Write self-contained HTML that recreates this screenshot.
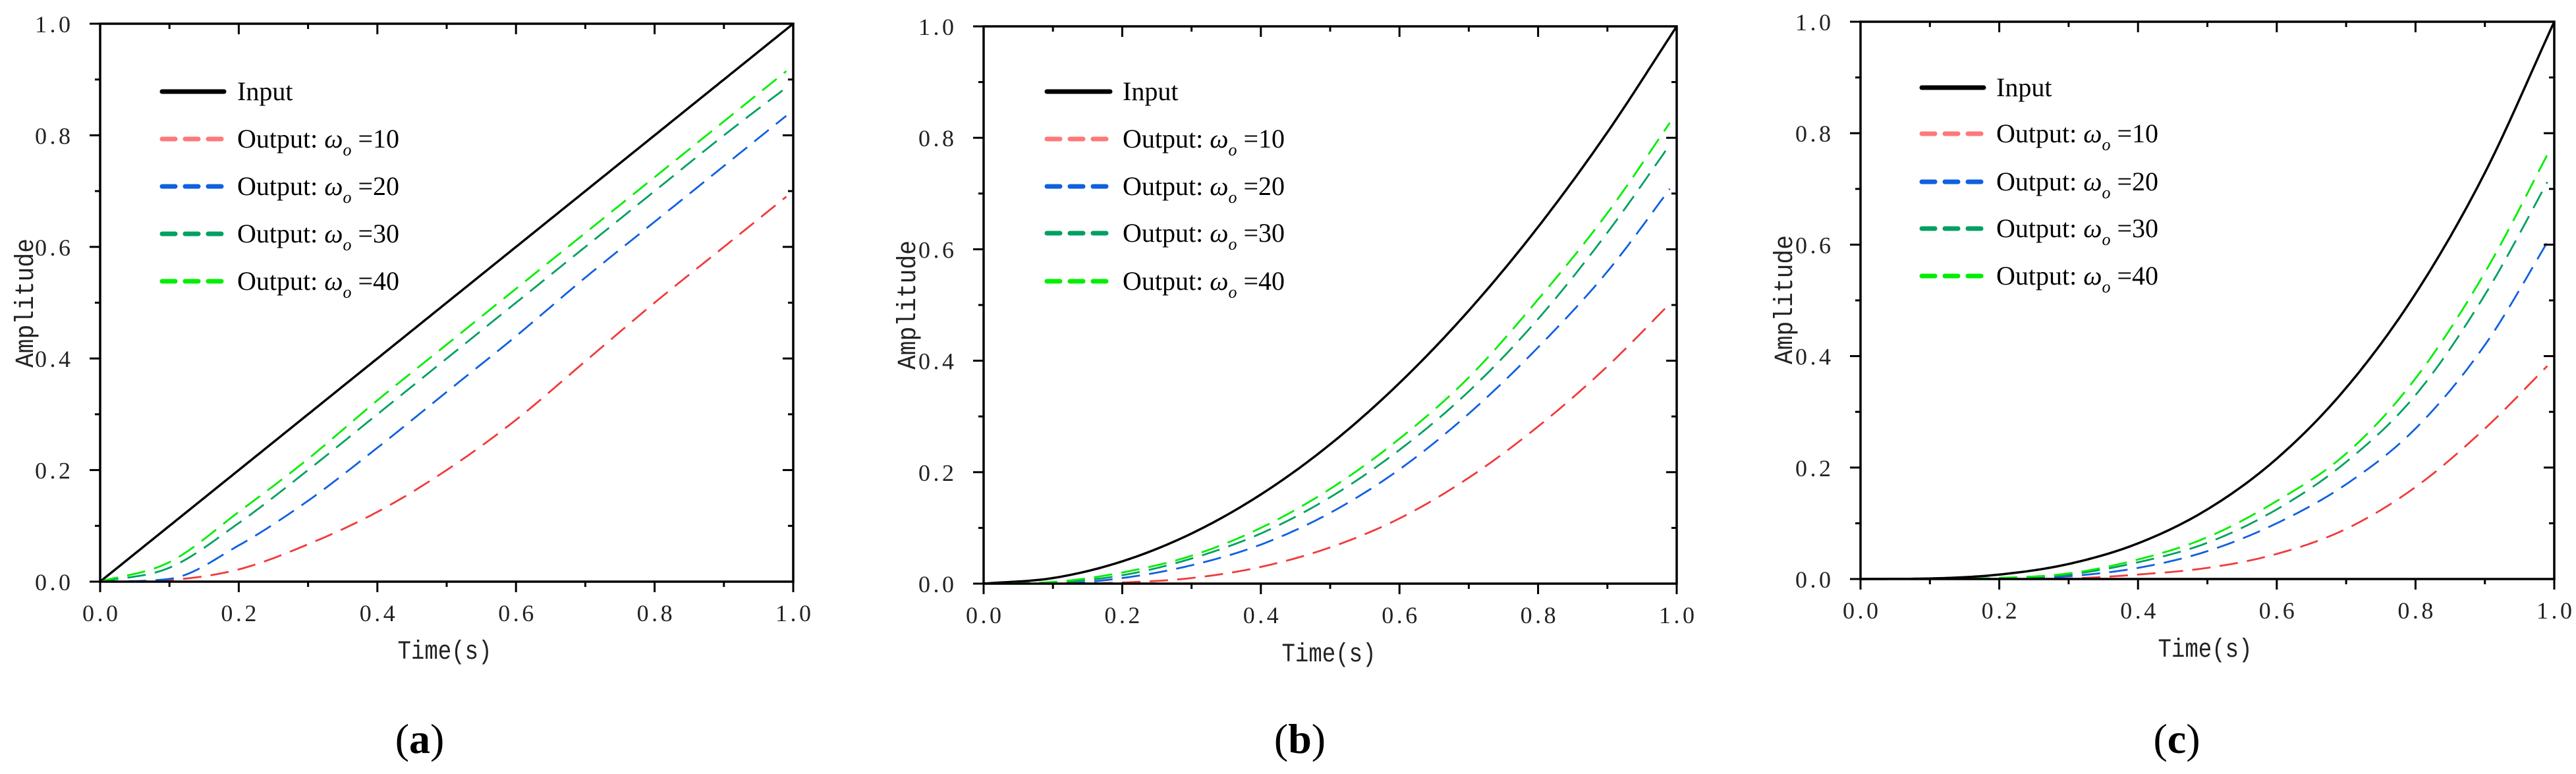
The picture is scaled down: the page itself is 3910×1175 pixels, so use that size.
<!DOCTYPE html>
<html><head><meta charset="utf-8"><style>
html,body{margin:0;padding:0;background:#fff;}
svg{display:block;}
</style></head><body>
<svg id="fig" xmlns="http://www.w3.org/2000/svg" width="3910" height="1175" viewBox="0 0 3910 1175"></svg>
<script>
// shared sample times
const times = [0,0.1,0.2,0.3,0.4,0.5,0.6,0.7,0.8,0.9,1.0];
const tickLabels = ["0.0","0.2","0.4","0.6","0.8","1.0"];
const seriesNames = ["Input","Output: ω=10","Output: ω=20","Output: ω=30","Output: ω=40"];
const omegaValues = ["10","20","30","40"];
// panel (a)
const aInput = [0,0.1,0.2,0.3,0.4,0.5,0.6,0.7,0.8,0.9,1.0];
const aW10 = [0,0.003,0.022,0.067,0.125,0.2,0.29,0.395,0.5,0.6,0.7];
const aW20 = [0,0.005,0.065,0.145,0.24,0.34,0.44,0.545,0.645,0.745,0.845];
const aW30 = [0,0.025,0.105,0.2,0.3,0.4,0.5,0.6,0.7,0.8,0.895];
const aW40 = [0,0.035,0.125,0.22,0.325,0.425,0.525,0.625,0.725,0.825,0.925];
// panel (b)
const bInput = [0,0.01,0.04,0.09,0.16,0.25,0.36,0.49,0.64,0.81,1.0];
const bW10 = [0,0,0.002,0.01,0.03,0.065,0.117,0.19,0.282,0.39,0.515];
const bW20 = [0,0,0.01,0.033,0.07,0.127,0.205,0.305,0.424,0.56,0.725];
const bW30 = [0,0.002,0.015,0.045,0.09,0.155,0.24,0.345,0.475,0.63,0.805];
const bW40 = [0,0.003,0.02,0.05,0.1,0.17,0.26,0.37,0.51,0.665,0.845];
// panel (c)
const cInput = [0,0.001,0.008,0.027,0.064,0.125,0.216,0.343,0.512,0.729,1.0];
const cW10 = [0,0,0,0.001,0.008,0.02,0.045,0.09,0.165,0.27,0.395];
const cW20 = [0,0,0,0.005,0.02,0.05,0.1,0.17,0.27,0.42,0.625];
const cW30 = [0,0,0.001,0.008,0.03,0.065,0.125,0.21,0.33,0.51,0.735];
const cW40 = [0,0,0.002,0.01,0.035,0.075,0.14,0.225,0.36,0.55,0.785];

const svg = document.getElementById('fig');
const NS = 'http://www.w3.org/2000/svg';
function mk(tag, attrs, parent){const e=document.createElementNS(NS,tag);for(const k in attrs)e.setAttribute(k,attrs[k]);(parent||svg).appendChild(e);return e;}

const colors = ['#000000','#f23a3a','#1060e0','#00a060','#00ee00'];
const legendColors = ['#000000','#ff7878','#1060e0','#00a060','#00ee00'];

const panels = [
 {id:'a',L:152,R:1204,T:36,B:883,series:[aInput,aW10,aW20,aW30,aW40],legX1:246,legX2:340,legText:360,legY:[139,211,283,355,427],timeX:675,timeY:986,ampX:36,ampY:460,capX:637},
 {id:'b',L:1493,R:2545,T:40,B:886,series:[bInput,bW10,bW20,bW30,bW40],legX1:1589,legX2:1685,legText:1704,legY:[139,211,283,354,427],timeX:2017,timeY:990,ampX:1375,ampY:463,capX:1973},
 {id:'c',L:2824,R:3877,T:33,B:879,series:[cInput,cW10,cW20,cW30,cW40],legX1:2917,legX2:3011,legText:3030,legY:[133,203,276,347,419],timeX:3347,timeY:983,ampX:2706,ampY:455,capX:3304}
];

function monoPath(xs, ys, sx, sy, tmax){
  const n=xs.length, d=[], m=new Array(n);
  for(let i=0;i<n-1;i++) d.push((ys[i+1]-ys[i])/(xs[i+1]-xs[i]));
  m[0]=d[0]; m[n-1]=d[n-2];
  for(let i=1;i<n-1;i++){
    if(d[i-1]*d[i]<=0) m[i]=0;
    else m[i]=(d[i-1]+d[i])/2;
  }
  for(let i=0;i<n-1;i++){
    if(d[i]===0){m[i]=0;m[i+1]=0;continue;}
    const a=m[i]/d[i], b=m[i+1]/d[i], s=a*a+b*b;
    if(s>9){const t=3/Math.sqrt(s);m[i]=t*a*d[i];m[i+1]=t*b*d[i];}
  }
  let path='';
  const steps=20;
  for(let i=0;i<n-1;i++){
    const h=xs[i+1]-xs[i];
    for(let s=0;s<=steps;s++){
      if(i>0&&s===0)continue;
      const t=s/steps, x=xs[i]+h*t;
      if(x>tmax+1e-9)break;
      const h00=2*t*t*t-3*t*t+1,h10=t*t*t-2*t*t+t,h01=-2*t*t*t+3*t*t,h11=t*t*t-t*t;
      const y=Math.max(0,h00*ys[i]+h10*h*m[i]+h01*ys[i+1]+h11*h*m[i+1]);
      path+=(path?'L':'M')+sx(x).toFixed(1)+','+sy(y).toFixed(1);
    }
  }
  return path;
}

panels.forEach(p=>{
  const g=mk('g',{});
  
  
  const sx=v=>p.L+v*(p.R-p.L);
  const sy=v=>p.B-v*(p.B-p.T);
  p.series.forEach((vals,si)=>{
    const tmax = si===0?1.0:0.99;
    const path=mk('path',{d:monoPath(times,vals,sx,sy,tmax),fill:'none',stroke:colors[si],'stroke-width':si===0?3.5:2.8,'stroke-dasharray':si===0?'none':'28 14'},g);
    
    
  });
  const fr=mk('rect',{x:p.L,y:p.T,width:p.R-p.L,height:p.B-p.T,fill:'none',stroke:'#000','stroke-width':3.5},g);
  
  
  for(let i=0;i<=10;i++){
    const v=i/10, major=i%2===0, len=major?16:8;
    const x=sx(v), y=sy(v);
    mk('line',{x1:x,y1:p.B,x2:x,y2:p.B+len,stroke:'#000','stroke-width':3},g);
    mk('line',{x1:x,y1:p.T,x2:x,y2:p.T+len,stroke:'#000','stroke-width':3},g);
    mk('line',{x1:p.L,y1:y,x2:p.L-len,y2:y,stroke:'#000','stroke-width':3},g);
    mk('line',{x1:p.R,y1:y,x2:p.R-len,y2:y,stroke:'#000','stroke-width':3},g);
  }
  tickLabels.forEach((lab,i)=>{
    const v=i*0.2;
    const tx=mk('text',{x:sx(v),y:p.B+60,'text-anchor':'middle','font-family':'Liberation Serif, serif','font-size':36,textLength:54,lengthAdjust:'spacing',fill:'#222'},g);
    tx.textContent=lab;
    
    
    const ty=mk('text',{x:p.L-72,y:sy(v)+13,'text-anchor':'middle','font-family':'Liberation Serif, serif','font-size':36,textLength:54,lengthAdjust:'spacing',fill:'#222'},g);
    ty.textContent=lab;
    
    
  });
  const xt=mk('text',{x:p.timeX,y:p.timeY+14,'text-anchor':'middle','font-family':'Liberation Mono, monospace','font-size':40,textLength:143,lengthAdjust:'spacingAndGlyphs',fill:'#222'},g);
  xt.textContent='Time(s)';
  
  
  const yt=mk('text',{x:p.ampX+14,y:p.ampY,'text-anchor':'middle','font-family':'Liberation Mono, monospace','font-size':40,textLength:196,lengthAdjust:'spacingAndGlyphs',fill:'#222',transform:'rotate(-90 '+(p.ampX+14)+' '+p.ampY+')'},g);
  yt.textContent='Amplitude';
  
  
  seriesNames.forEach((nm,si)=>{
    const y=p.legY[si];
    const ln=mk('line',{x1:p.legX1,y1:y,x2:p.legX2,y2:y,stroke:legendColors[si],'stroke-width':7,'stroke-linecap':'round','stroke-dasharray':si===0?'none':'20 15'},g);
    
    
    const t=mk('text',{x:p.legText,y:y+13,'font-family':'Liberation Serif, serif','font-size':40,fill:'#000'},g);
    
    
    if(si===0){t.textContent='Input';}
    else{
      mk('tspan',{},t).textContent='Output: ';
      mk('tspan',{'font-style':'italic'},t).textContent='ω';
      mk('tspan',{'font-style':'italic','font-size':26,dy:12},t).textContent='o';
      mk('tspan',{dy:-12,dx:10},t).textContent='='+omegaValues[si-1];
    }
  });
  const cap=mk('text',{x:p.capX,y:1143,'text-anchor':'middle','font-family':'Liberation Serif, serif','font-size':64,fill:'#000'},g);
  
  
  mk('tspan',{},cap).textContent='(';
  mk('tspan',{'font-weight':'bold'},cap).textContent=p.id;
  mk('tspan',{},cap).textContent=')';
});
</script>
</body></html>
